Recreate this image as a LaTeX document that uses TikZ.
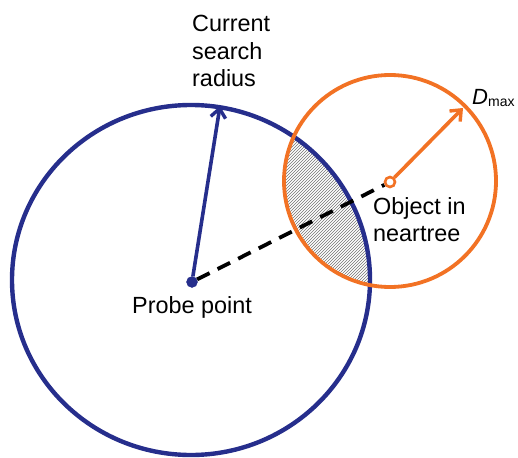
\documentclass[tikz,border=0pt]{standalone}
\usepackage{fontspec}
\setmainfont{Liberation Sans}
\usetikzlibrary{arrows.meta,patterns}
\definecolor{navy}{RGB}{38,46,140}
\definecolor{orng}{RGB}{242,114,36}
\tikzset{
  bluecirc/.style={draw=navy,line width=4.4pt},
  orcirc/.style={draw=orng,line width=3.8pt},
  radarrow/.style={line width=3.6pt,-{Straight Barb[length=9pt,width=15pt,line width=3.4pt]}},
  lbl/.style={inner sep=0pt,font=\fontsize{23.4}{27.5}\selectfont,align=left},
  dashline/.style={line width=3.8pt,dash pattern=on 14pt off 9pt}
}
\begin{document}
\begin{tikzpicture}[x=1pt,y=-1pt]
\useasboundingbox (0,0) rectangle (518,457);
% hatched lens
\begin{scope}
  \clip (191,280) ellipse [x radius=179pt, y radius=175pt];
  \fill[pattern={north east lines},pattern color=black!55] (390,181) circle [radius=106pt];
\end{scope}
% circles
\draw[bluecirc] (191,280) ellipse [x radius=179pt, y radius=175pt];
\draw[orcirc] (390,181) circle [radius=106pt];
% points
\node[circle,fill=navy,draw=navy,minimum size=11pt,inner sep=0pt] (probe) at (192,282) {};
\node[circle,fill=white,draw=orng,line width=2.6pt,minimum size=10pt,inner sep=0pt] (obj) at (390,182) {};
\coordinate (btip) at (220,106);
\coordinate (otip) at (463,108);
% connectors
\draw[dashline] (probe) -- (obj);
\draw[radarrow,navy] (probe) -- (btip);
\draw[radarrow,orng] (obj) -- (otip);
% labels
\node[lbl,anchor=north west] (csr) at (192,15) {Current\\search\\radius};
\node[lbl,anchor=base west] (pp) at (132,313) {Probe point};
\node[lbl,anchor=north west] (oin) at (373,197) {Object in\\neartree};
\node[inner sep=0pt,anchor=base west,font=\fontsize{22}{26}\selectfont] (dmax) at (472,105) {\textit{D}\raisebox{-2pt}{\fontsize{14}{16}\selectfont max}};
\end{tikzpicture}
\end{document}
